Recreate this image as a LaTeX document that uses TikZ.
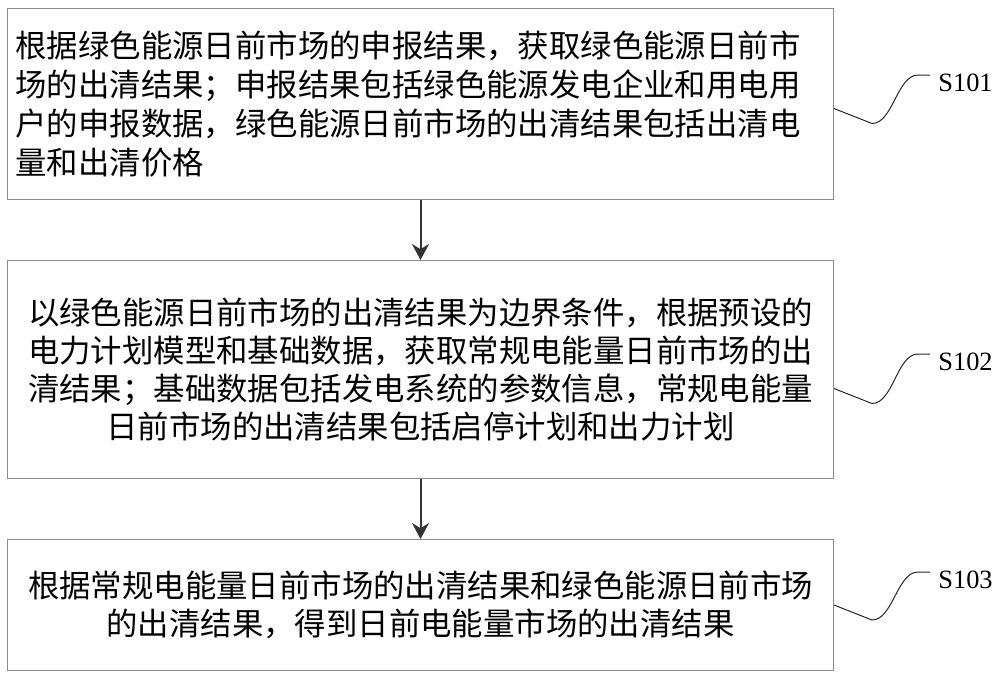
\documentclass[tikz,border=0pt]{standalone}
\usepackage{fontspec}
\setmainfont{Liberation Serif}
\newfontfamily\cjk{Noto Sans CJK SC}
\usetikzlibrary{positioning,arrows.meta}

\begin{document}
\begin{tikzpicture}[
  box/.style={draw=black!45,line width=0.5pt,minimum width=413pt,text width=405pt,inner sep=4pt,font=\cjk\fontsize{15.7}{19}\selectfont},
  steplabel/.style={anchor=west,inner sep=0pt,font=\fontsize{13.2}{15}\selectfont},
  flow/.style={-{Stealth[length=8pt,width=8.5pt]},line width=1pt,draw=black!80},
  wave/.style={line width=0.5pt,draw=black!85}
]
\useasboundingbox (0,0) rectangle (500pt,-338pt);

\node[box,minimum height=95.5pt,align=left,anchor=north west,font=\cjk\fontsize{15.7}{19.5}\selectfont] (S1) at (3.5pt,-4pt) {根据绿色能源日前市场的申报结果，获取绿色能源日前市\\场的出清结果；申报结果包括绿色能源发电企业和用电用\\户的申报数据，绿色能源日前市场的出清结果包括出清电\\量和出清价格};

\node[box,minimum height=109pt,align=center] (S2) [below=30pt of S1] {以绿色能源日前市场的出清结果为边界条件，根据预设的\\电力计划模型和基础数据，获取常规电能量日前市场的出\\清结果；基础数据包括发电系统的参数信息，常规电能量\\日前市场的出清结果包括启停计划和出力计划};

\node[box,minimum height=65.5pt,align=center] (S3) [below=30pt of S2] {根据常规电能量日前市场的出清结果和绿色能源日前市场\\的出清结果，得到日前电能量市场的出清结果};

\draw [flow] (S1.south) -- (S2.north);
\draw [flow] (S2.south) -- (S3.north);

% step labels
\node[steplabel] (L1) at (469pt,-41.5pt) {S101};
\node[steplabel] (L2) at (469pt,-181pt) {S102};
\node[steplabel] (L3) at (469pt,-290pt) {S103};

\draw [wave] ([yshift=-2.25pt]S1.east) -- ++(19pt,-7.5pt) to[out=0,in=180,looseness=0.8] ([xshift=-10pt,yshift=4pt]L1.west) -- ([xshift=-4pt,yshift=4pt]L1.west);
\draw [wave] ([yshift=-9.5pt]S2.east) -- ++(19pt,-7.5pt) to[out=0,in=180,looseness=0.8] ([xshift=-10pt,yshift=4pt]L2.west) -- ([xshift=-4pt,yshift=4pt]L2.west);
\draw [wave] ([yshift=0pt]S3.east) -- ++(19pt,-7.5pt) to[out=0,in=180,looseness=0.8] ([xshift=-10pt,yshift=4pt]L3.west) -- ([xshift=-4pt,yshift=4pt]L3.west);

\end{tikzpicture}
\end{document}
